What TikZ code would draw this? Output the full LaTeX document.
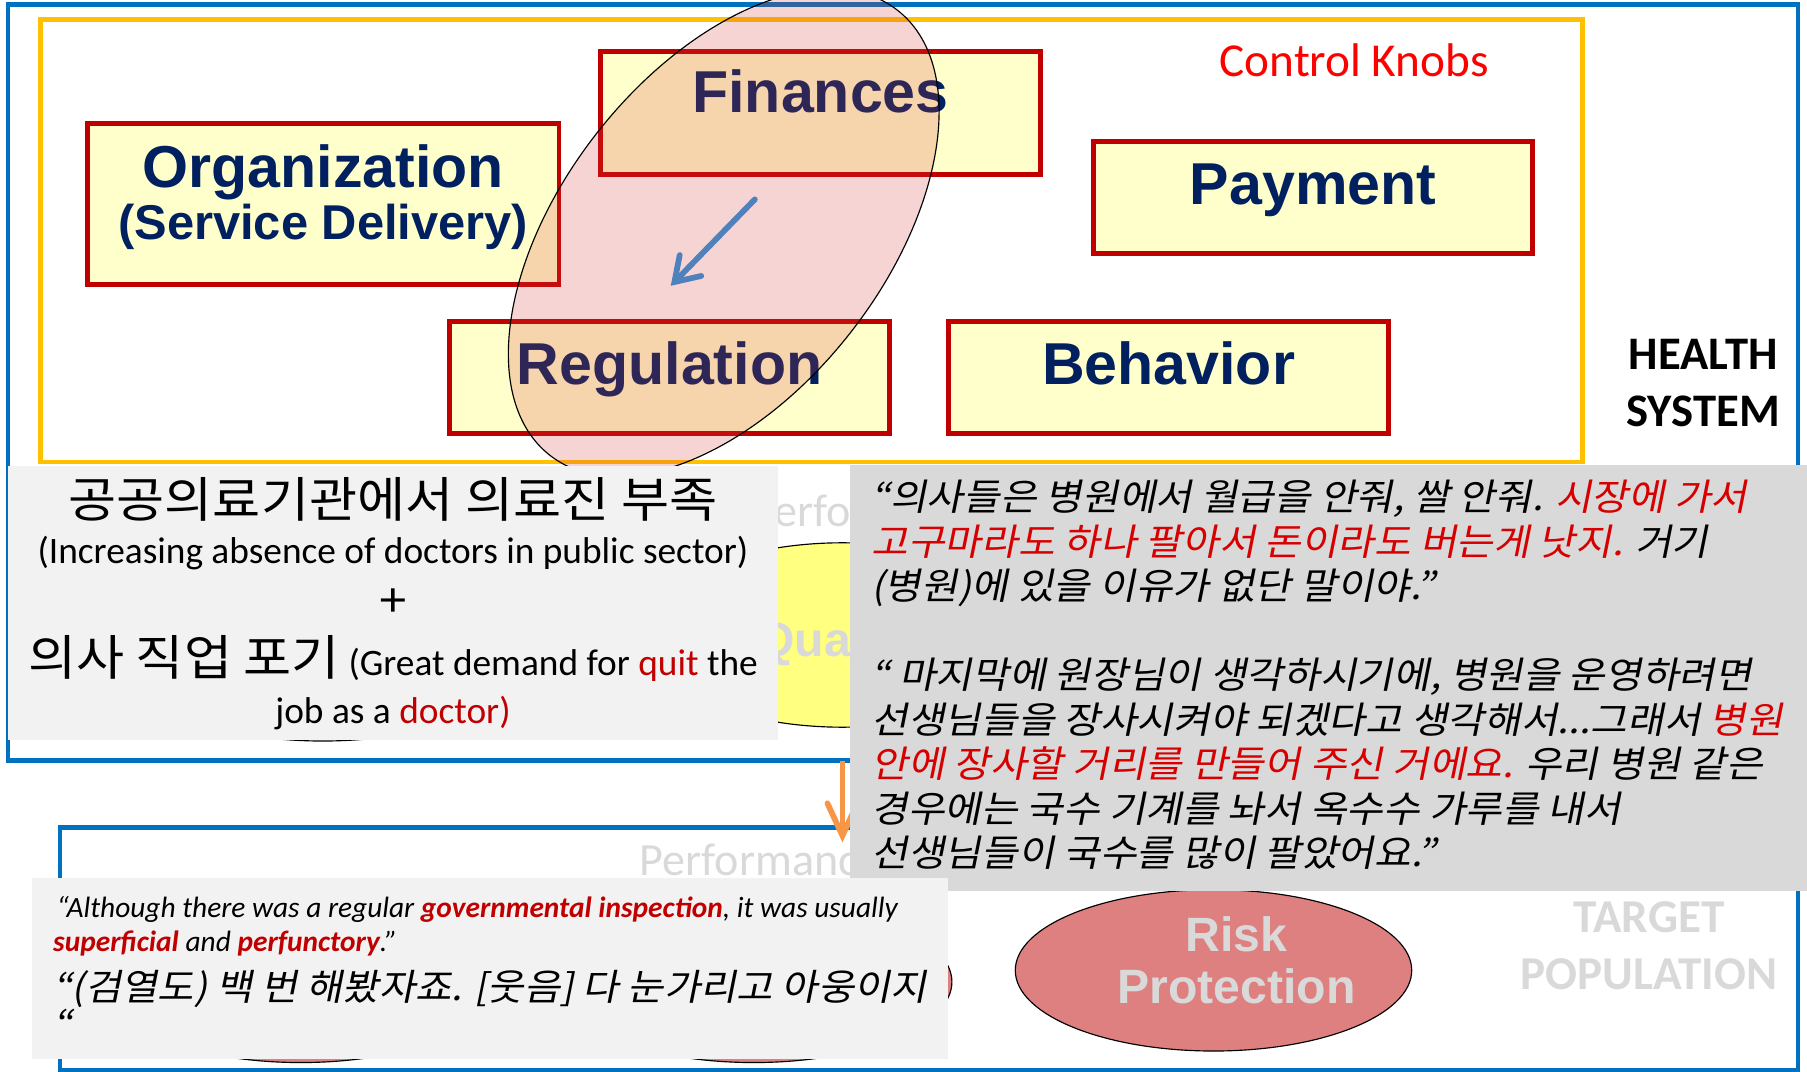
\documentclass[tikz,border=0pt]{standalone}
\usepackage{fontspec}
\setmainfont{Carlito}
\newfontfamily\knobfont{Liberation Sans}
\newfontfamily\krfont{Noto Sans CJK KR}[FakeStretch=1.08]
\newfontfamily\krslant{Noto Sans CJK KR}[FakeSlant=0.2, FakeStretch=1.08]
\usepackage{tikz}
\usetikzlibrary{arrows.meta, positioning, calc}
\lineskiplimit=-100pt

\definecolor{frameblue}{RGB}{0,112,192}
\definecolor{frameorange}{RGB}{255,192,0}
\definecolor{knobred}{RGB}{192,0,0}
\definecolor{knobfill}{RGB}{255,255,204}
\definecolor{knobnavy}{RGB}{0,32,96}
\definecolor{pinkhl}{RGB}{215,60,60}
\definecolor{arrowblue}{RGB}{79,129,189}
\definecolor{arroworange}{RGB}{247,150,70}
\definecolor{quotelight}{RGB}{242,242,242}
\definecolor{quotedark}{RGB}{217,217,217}
\definecolor{fadegray}{RGB}{217,217,217}
\definecolor{riskfill}{RGB}{222,128,128}
\definecolor{qualfill}{RGB}{255,255,128}
\definecolor{quotered}{RGB}{192,0,0}
\definecolor{krred}{RGB}{214,0,0}

\tikzset{
  knob/.style={draw=knobred, fill=knobfill, line width=4pt, inner sep=0pt,
    text=knobnavy, font=\knobfont\bfseries\fontsize{51.3}{45}\selectfont,
    text height=36pt, text depth=24pt},
  quotebox/.style={inner sep=0pt, anchor=north west},
  fadetext/.style={text=fadegray, inner sep=0pt, anchor=base},
  perf/.style={draw=black, line width=1pt},
  bluearr/.style={draw=arrowblue, line width=5pt, line cap=round,
    -{Straight Barb[length=20pt, width=26pt, line cap=round]}},
  orangearr/.style={draw=arroworange, line width=5pt,
    -{Straight Barb[length=28pt, width=26pt, line cap=round]}}
}

\begin{document}
\begin{tikzpicture}[x=1pt, y=-1pt]
  \useasboundingbox (0,0) rectangle (1568,930);

  % health system and control knobs frames
  \draw[frameblue, line width=4pt] (7,4) rectangle (1560,660);
  \draw[frameorange, line width=4pt] (35,17) rectangle (1373,401);
  \node[text=red, font=\fontsize{41}{48}\selectfont, anchor=base, inner sep=0pt] (knobs) at (1175,66) {Control Knobs};
  \node[font=\bfseries\fontsize{40.5}{49.5}\selectfont, align=center, anchor=base, inner sep=0pt] (health) at (1478,370.5) {HEALTH\\SYSTEM};

  % the five knobs
  \node[knob, minimum width=382, minimum height=107, text depth=36pt] (fin) at (712,98) {Finances};
  \node[knob, minimum width=409, minimum height=140, align=center, text height=, text depth=] (org) at (280.5,177)
    {\rule{0pt}{37pt}Organization\\{\fontsize{42.4}{45}\selectfont (Service Delivery)}\rule[-20pt]{0pt}{20pt}};
  \node[knob, minimum width=381, minimum height=97] (pay) at (1139.5,171.5) {Payment};
  \node[knob, minimum width=382, minimum height=97] (reg) at (581,327.5) {Regulation};
  \node[knob, minimum width=382, minimum height=97] (beh) at (1014,327.5) {Behavior};

  % finances -> regulation highlight
  \draw[perf, fill=pinkhl, fill opacity=0.22, rotate around={52:(628,202)}] (628,202) ellipse [x radius=245, y radius=140];
  \coordinate (finarr) at (655,173);
  \coordinate (regarr) at (582,248);
  \draw[bluearr] (finarr) -- (regarr);

  % performance row (mostly hidden)
  \node[fadetext, anchor=base west, font=\fontsize{40}{48}\selectfont] (perfup) at (652,457) {Performance};
  \draw[perf, fill=qualfill] (731,551) ellipse [x radius=172, y radius=80];
  \node[fadetext, font=\knobfont\bfseries\fontsize{41.8}{48}\selectfont] (quality) at (728,570) {Quality};
  \draw[perf, fill=white] (280,573) ellipse [x radius=172, y radius=70];

  % target population frame
  \draw[frameblue, line width=4pt] (52,718) rectangle (1560,929);
  \node[fadetext, anchor=base west, font=\fontsize{40}{48}\selectfont] (perflow) at (555,760) {Performance};
  \draw[perf, fill=riskfill] (261,852) ellipse [x radius=172, y radius=70];
  \draw[perf, fill=riskfill] (654,852) ellipse [x radius=172, y radius=70];
  \draw[perf, fill=riskfill] (1053,842) ellipse [x radius=172, y radius=70];
  \node[fadetext, align=center, font=\knobfont\bfseries\fontsize{41.8}{45}\selectfont] (risk) at (1073,871) {Risk\\Protection};
  \node[fadetext, align=center, font=\bfseries\fontsize{40.9}{50}\selectfont] (target) at (1431,859) {TARGET\\POPULATION};

  \coordinate (perfarr) at (731,660);
  \coordinate (popularr) at (731,731);
  \draw[orangearr] (perfarr) -- (popularr);

  % quotes
  \node[quotebox, fill=quotelight, minimum width=668, minimum height=238] (absence) at (7,404) {};
  \node[anchor=base, align=center, inner sep=0pt, font=\fontsize{32.4}{40}\selectfont] (absencetxt) at (341,628)
    {{\krfont\fontsize{42}{40}\selectfont 공공의료기관에서 의료진 부족}\\
     (Increasing absence of doctors in public sector)\\[7pt]
     {\krfont\fontsize{40}{40}\selectfont +}\\[10pt]
     {\krfont\fontsize{42}{40}\selectfont 의사 직업 포기} (Great demand for \textcolor{quotered}{quit} the\\[2pt]
     job as a \textcolor{quotered}{doctor)}};

  \node[quotebox, fill=quotedark, minimum width=831, minimum height=369.5] (market) at (737,403.5) {};
  \node[anchor=base west, align=left, inner sep=0pt, font=\krslant\fontsize{32}{38.6}\selectfont] (markettxt) at (756,752)
    {“의사들은 병원에서 월급을 안줘, 쌀 안줘. \textcolor{krred}{시장에 가서}\\
     \textcolor{krred}{고구마라도 하나 팔아서 돈이라도 버는게 낫지.} 거기\\
     (병원)에 있을 이유가 없단 말이야.”\\[38.6pt]
     “ 마지막에 원장님이 생각하시기에, 병원을 운영하려면\\
     선생님들을 장사시켜야 되겠다고 생각해서...그래서 \textcolor{krred}{병원}\\
     \textcolor{krred}{안에 장사할 거리를 만들어 주신 거에요.} 우리 병원 같은\\
     경우에는 국수 기계를 놔서 옥수수 가루를 내서\\
     선생님들이 국수를 많이 팔았어요.”};

  \node[quotebox, fill=quotelight, minimum width=794, minimum height=157] (inspect) at (28,762) {};
  \node[anchor=base west, align=left, inner sep=0pt, font=\itshape\fontsize{25.5}{30}\selectfont] (inspecttxt) at (46,900)
    {\hspace*{3pt}“Although there was a regular \textcolor{quotered}{\bfseries governmental inspection}, it was usually\\
     \textcolor{quotered}{\bfseries superficial} and \textcolor{quotered}{\bfseries perfunctory}.”\\[12pt]
     {\krslant\fontsize{31.7}{30}\selectfont “(검열도) 백 번 해봤자죠. [웃음] 다 눈가리고 아웅이지}\\[2pt]
     {\krslant\fontsize{31.7}{30}\selectfont “}};
\end{tikzpicture}
\end{document}
